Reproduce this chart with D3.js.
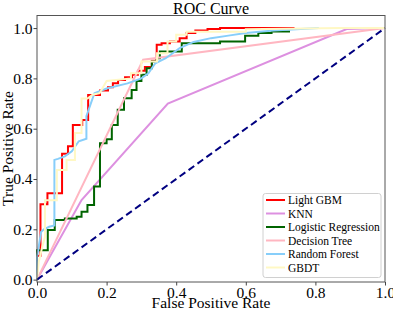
<!DOCTYPE html>
<html><head><meta charset="utf-8">
<script src="https://cdn.jsdelivr.net/npm/d3@7"></script>
</head><body style="margin:0"><svg id="c" width="393" height="311" font-family="Liberation Serif" style="display:block;background:#fff"></svg>
<script>
const seriesNames = ["Light GBM","KNN","Logistic Regression","Decision Tree","Random Forest","GBDT"];
const seriesColors = ["#ff0000","#dd90e0","#006400","#ffb6c1","#87cefa","#fff8c4"];
const xTicks = [0,0.2,0.4,0.6,0.8,1.0];
const yTicks = [0,0.2,0.4,0.6,0.8,1.0];

const lightGBM = [[0,0],[0,0.095],[0.01,0.095],[0.01,0.3],[0.03,0.3],[0.03,0.343],[0.072,0.343],[0.072,0.5],[0.089,0.5],[0.089,0.53],[0.103,0.53],[0.103,0.615],[0.13,0.615],[0.13,0.635],[0.147,0.635],[0.147,0.734],[0.181,0.734],[0.181,0.752],[0.204,0.752],[0.204,0.765],[0.218,0.765],[0.218,0.781],[0.233,0.781],[0.233,0.794],[0.253,0.794],[0.253,0.805],[0.273,0.805],[0.273,0.814],[0.29,0.814],[0.29,0.83],[0.31,0.83],[0.31,0.845],[0.33,0.845],[0.33,0.87],[0.344,0.87],[0.344,0.934],[0.358,0.934],[0.358,0.94],[0.382,0.94],[0.382,0.947],[0.41,0.947],[0.41,0.96],[0.43,0.96],[0.43,0.98],[0.455,0.98],[0.455,0.99],[0.49,0.99],[0.49,0.996],[0.526,0.996],[0.526,1.0],[0.74,1.0]];
const knn = [[0,0],[0.128,0.316],[0.376,0.70],[0.89,0.996],[1,1]];
const logReg = [[0,0],[0,0.117],[0.031,0.117],[0.031,0.197],[0.051,0.197],[0.051,0.237],[0.08,0.237],[0.08,0.243],[0.114,0.243],[0.114,0.25],[0.128,0.25],[0.128,0.27],[0.145,0.27],[0.145,0.297],[0.164,0.297],[0.164,0.37],[0.181,0.37],[0.181,0.542],[0.2,0.542],[0.2,0.558],[0.215,0.558],[0.215,0.615],[0.232,0.615],[0.232,0.675],[0.25,0.675],[0.25,0.721],[0.272,0.721],[0.272,0.754],[0.286,0.754],[0.286,0.79],[0.3,0.79],[0.3,0.814],[0.315,0.814],[0.315,0.84],[0.33,0.84],[0.33,0.867],[0.344,0.867],[0.344,0.88],[0.353,0.88],[0.353,0.907],[0.416,0.907],[0.416,0.94],[0.526,0.94],[0.526,0.947],[0.598,0.947],[0.598,0.969],[0.636,0.969],[0.636,0.98],[0.674,0.98],[0.674,0.986],[0.727,0.986]];
const decTree = [[0,0],[0.305,0.874],[1,1]];
const randForest = [[0,0],[0,0.09],[0.012,0.19],[0.02,0.2],[0.035,0.21],[0.05,0.215],[0.05,0.476],[0.06,0.48],[0.08,0.49],[0.1,0.51],[0.12,0.55],[0.142,0.56],[0.142,0.65],[0.165,0.741],[0.2,0.76],[0.26,0.78],[0.3,0.8],[0.32,0.82],[0.34,0.86],[0.37,0.88],[0.41,0.92],[0.45,0.945],[0.5,0.96],[0.55,0.97],[0.6,0.98],[0.68,0.99],[0.81,1.0]];
const gbdt = [[0,0],[0.005,0.07],[0.015,0.13],[0.023,0.17],[0.023,0.316],[0.057,0.316],[0.057,0.436],[0.085,0.436],[0.085,0.476],[0.109,0.476],[0.109,0.583],[0.128,0.583],[0.128,0.72],[0.145,0.72],[0.16,0.735],[0.18,0.741],[0.2,0.79],[0.27,0.8],[0.27,0.82],[0.3,0.82],[0.3,0.867],[0.345,0.867],[0.345,0.9],[0.375,0.9],[0.375,0.947],[0.4,0.947],[0.4,0.973],[0.43,0.973],[0.43,0.985],[0.6,0.985],[0.6,0.995],[0.87,1.0],[1,1]];
const diagonal = [[0,0],[1,1]];
const seriesData = [lightGBM, knn, logReg, decTree, randForest, gbdt];

const svg = d3.select("#c");
const x = d3.scaleLinear().domain([0,1]).range([37,385]);
const y = d3.scaleLinear().domain([-0.0095,1.05]).range([282,15.5]);
const line = d3.line().x(d=>x(d[0])).y(d=>y(d[1]));

const plot = svg.append("g");
seriesData.forEach((s,i)=>{
  plot.append("path").attr("d",line(s)).attr("fill","none")
    .attr("stroke",seriesColors[i]).attr("stroke-width",2);
});
plot.append("path").attr("d",line(diagonal)).attr("fill","none")
  .attr("stroke","#000080").attr("stroke-width",2).attr("stroke-dasharray","7,4");

svg.append("rect").attr("x",x(0)).attr("y",y(1.05)).attr("width",x(1)-x(0)).attr("height",y(-0.0095)-y(1.05))
  .attr("fill","none").attr("stroke","#555").attr("stroke-width",1);

const xa = svg.append("g").attr("transform",`translate(0,${y(-0.0095)})`)
  .call(d3.axisBottom(x).tickValues(xTicks).tickFormat(d3.format(".1f")).tickSize(3.5).tickPadding(1));
const ya = svg.append("g").attr("transform",`translate(${x(0)},0)`)
  .call(d3.axisLeft(y).tickValues(yTicks).tickFormat(d3.format(".1f")).tickSize(3.5).tickPadding(1));
[xa,ya].forEach(a=>{
  a.attr("font-family","Liberation Serif").attr("font-size",15.5);
  a.select(".domain").remove();
  a.selectAll(".tick line").attr("stroke","#444");
  a.selectAll("text").attr("fill","#000");
});

svg.append("text").attr("x",211).attr("y",13.5).attr("text-anchor","middle")
  .attr("font-family","Liberation Serif").attr("font-size",16).text("ROC Curve");
svg.append("text").attr("x",211).attr("y",308).attr("text-anchor","middle")
  .attr("font-family","Liberation Serif").attr("font-size",15.5).text("False Positive Rate");
svg.append("text").attr("transform","translate(13,148.5) rotate(-90)").attr("text-anchor","middle")
  .attr("font-family","Liberation Serif").attr("font-size",15.5).text("True Positive Rate");

const lg = svg.append("g");
lg.append("rect").attr("x",263).attr("y",193.5).attr("width",118).attr("height",84).attr("rx",2.5)
  .attr("fill","#fff").attr("fill-opacity",0.9).attr("stroke","#d0d0d0").attr("stroke-width",1);
seriesNames.forEach((n,i)=>{
  const yy = 200 + i*13.5;
  lg.append("line").attr("x1",266).attr("x2",285).attr("y1",yy).attr("y2",yy)
    .attr("stroke",seriesColors[i]).attr("stroke-width",2);
  lg.append("text").attr("x",288).attr("y",yy+4).attr("font-family","Liberation Serif").attr("font-size",11.5).text(n);
});
</script></body></html>
